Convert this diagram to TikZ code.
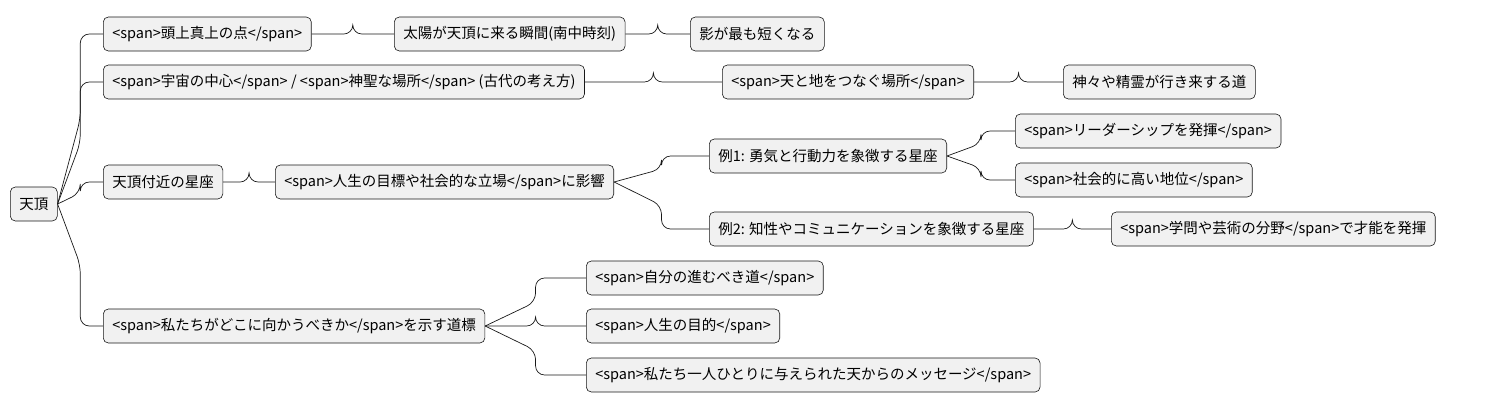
\documentclass[tikz,border=0pt]{standalone}
\usepackage{fontspec}
\setmainfont{Noto Sans CJK JP}
\usetikzlibrary{calc}
\definecolor{nodefill}{HTML}{F1F1F1}
\definecolor{nodeline}{HTML}{181818}
\begin{document}
\begin{tikzpicture}[x=1pt,y=-1pt,
  box/.style={draw=nodeline,fill=nodefill,rounded corners=5pt,anchor=west,
    inner xsep=9pt,minimum height=34pt,font=\fontsize{14.5pt}{17pt}\selectfont,line width=0.6pt},
  conn/.style={draw=nodeline,line width=0.7pt,rounded corners=9pt}]
\useasboundingbox (0,0) rectangle (1501,410);
\node[box] (r) at (10,204) {天頂};
\node[box] (a) at (103,34) {<span>頭上真上の点</span>};
\node[box] (a1) at (394,34) {太陽が天頂に来る瞬間(南中時刻)};
\node[box] (a2) at (690,34) {影が最も短くなる};
\node[box] (b) at (103,82) {<span>宇宙の中心</span> / <span>神聖な場所</span> (古代の考え方)};
\node[box] (b1) at (722,82) {<span>天と地をつなぐ場所</span>};
\node[box] (b2) at (1063,82) {神々や精霊が行き来する道};
\node[box] (c) at (103,182) {天頂付近の星座};
\node[box] (c1) at (275,182) {<span>人生の目標や社会的な立場</span>に影響};
\node[box] (e1) at (709,156) {例1: 勇気と行動力を象徴する星座};
\node[box] (e11) at (1015,131) {<span>リーダーシップを発揮</span>};
\node[box] (e12) at (1015,180) {<span>社会的に高い地位</span>};
\node[box] (e2) at (709,229) {例2: 知性やコミュニケーションを象徴する星座};
\node[box] (e21) at (1111,229) {<span>学問や芸術の分野</span>で才能を発揮};
\node[box] (d) at (103,326) {<span>私たちがどこに向かうべきか</span>を示す道標};
\node[box] (d1) at (586,278) {<span>自分の進むべき道</span>};
\node[box] (d2) at (586,326) {<span>人生の目的</span>};
\node[box] (d3) at (586,375) {<span>私たち一人ひとりに与えられた天からのメッセージ</span>};
\foreach \p/\c in {r/a,r/b,r/c,r/d,a/a1,a1/a2,b/b1,b1/b2,c/c1,c1/e1,c1/e2,e1/e11,e1/e12,e2/e21,d/d1,d/d2,d/d3}{
  \path[conn] (\p.east) -- ($(\p.east)!.5!(\c.west)$ |- \p.east) |- (\c.west);
}
\end{tikzpicture}
\end{document}
